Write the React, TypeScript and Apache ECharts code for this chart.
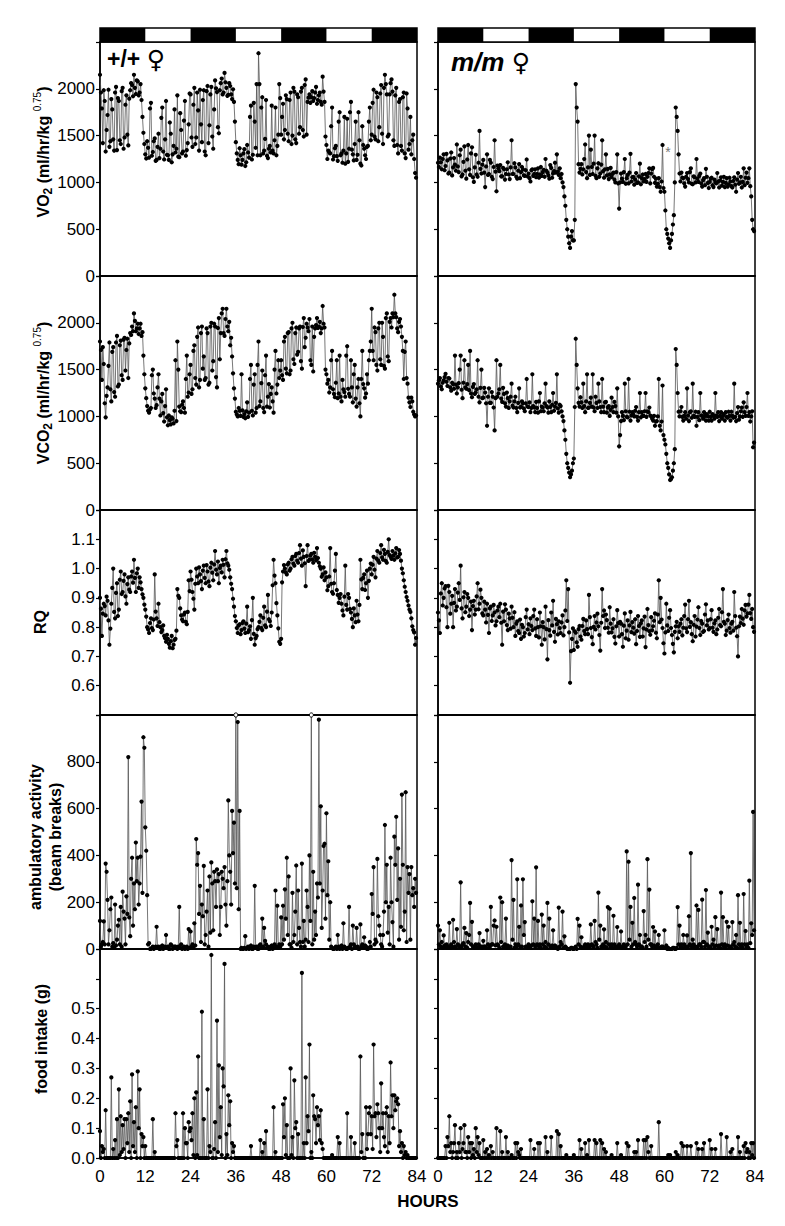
import React, { useEffect, useRef } from "react";
import * as echarts from "echarts";

// ---------- data ----------
// "*On" arrays: readings at t = 0, 0.5, 1.0 ... 83.5 h
// "*Off" arrays: readings at t = 0.25, 0.75 ... 83.75 h
const STEP_HOURS = 0.5;
const HOUR_MAX = 84;
const HOUR_INTERVAL = 12;
const darkPeriods = [[0, 12], [24, 36], [48, 60], [72, 84]];

const vo2WTOn = [
  2150,1790,1985,1330,1720,1380,1890,1460,1960,1345,1870,1410,2010,1480,1930,1395,1985,2040,2150,1945,2080,1960,1880,1530,
  1300,1440,1265,1850,1325,1470,1240,1520,1360,1800,1245,1870,1290,1640,1215,1390,1320,1930,1270,1560,1330,1870,1345,1620,
  1940,1380,2010,1480,1770,1990,1430,1985,1290,2030,1610,2020,1360,2090,1965,1525,2060,1940,2170,2010,1935,2030,1890,1860,
  1430,1240,1365,1190,1310,1175,1400,1265,1820,1295,1650,2050,2380,1290,1910,1340,1880,1260,1390,1820,1310,1800,1390,2050,
  1510,1840,1560,1890,1440,1960,1500,1970,1420,1910,1590,2010,1490,2100,1860,1940,1910,1870,1960,1840,1930,1860,2130,1860,
  1400,1340,1310,1800,1280,1390,1230,1750,1310,1340,1200,1680,1360,1860,1300,1410,1240,1750,1200,1600,1360,1250,1390,1800,
  1510,1990,1460,1910,1590,2040,1410,2150,1940,1510,2060,1970,1390,2010,1310,1890,1340,1960,1260,1790,1410,1300,1510,1100,
];
const vo2WTOff = [
  1960,1420,1870,1560,1990,1440,1780,1340,2020,1900,1450,1975,1360,1830,1510,1895,2060,1920,2010,2090,1930,2050,1700,1410,
  1255,1370,1790,1285,1440,1230,1380,1260,1690,1330,1460,1295,1240,1520,1300,1780,1360,1275,1740,1310,1660,1285,1420,1950,
  1480,1830,1410,1960,1340,1620,1880,1330,1975,1420,1940,1490,1780,2005,1590,1985,2110,1960,2070,1925,2060,1940,1995,1650,
  1310,1195,1290,1240,1355,1215,1320,1700,1245,1850,1370,1290,2050,1800,1310,1465,1285,1360,1320,1340,1450,1290,1510,1900,
  1700,1460,1930,1520,1880,1410,2010,1460,1940,1520,1970,1560,2040,1510,1905,1850,1975,1900,2020,1880,1960,1830,1970,1490,
  1250,1320,1600,1245,1365,1280,1650,1290,1210,1700,1310,1220,1750,1350,1235,1650,1295,1450,1180,1400,1290,1380,1650,1450,
  1850,1490,1960,1440,1950,1520,2010,2050,1490,1940,2100,1450,1930,1400,1860,1390,1910,1310,1950,1350,1700,1450,1250,1050,
];
const vo2MMOn = [
  1210,1265,1140,1300,1175,1235,1105,1320,1160,1190,1405,1110,1350,1085,1385,1040,1400,1080,1375,1005,1295,1060,1550,1095,
  1240,950,1300,1090,1210,1035,1450,905,1150,1185,1065,1140,1090,1215,1035,1450,1090,1160,1040,1195,1110,1140,1070,1245,
  1095,1010,1140,1090,1055,1150,1085,1070,1135,1250,1105,1040,1155,1095,1210,1300,1080,1045,1000,850,600,420,300,480,
  380,2050,1650,1105,1195,1140,1405,1045,1500,1350,1090,1500,1045,1205,1095,1450,1050,1300,1145,1085,1055,1105,1000,1300,
  720,1095,1005,1250,1045,990,1305,1055,975,1100,1000,1200,1045,1010,1090,1060,1150,1095,1155,995,955,1045,900,1400,
  900,500,400,300,450,650,1800,1550,1095,1105,1045,955,1100,1000,1150,980,1055,1250,1005,1095,955,1045,1145,995,
  1005,1050,950,1000,1100,945,1055,1005,950,1045,980,1010,945,1055,900,1100,1000,945,1150,1050,995,1150,850,500,
];
const vo2MMOff = [
  1165,1215,1250,1130,1305,1095,1255,1075,1260,1125,1170,1290,1065,1220,1125,1245,1140,1310,1055,1160,1085,1210,1145,1190,
  1105,1170,1080,1240,1060,1165,1115,1180,1120,1065,1155,1030,1140,1085,1160,1090,1205,1060,1125,1045,1165,1075,1130,1065,
  1045,1130,1070,1140,1090,1050,1165,1110,1060,1125,1075,1185,1050,1120,1105,1115,1150,1090,950,750,500,350,420,380,
  600,1800,1195,1145,1085,1250,1110,1160,1080,1165,1200,1070,1150,1060,1190,1120,1140,1075,1035,1155,1090,1030,1110,990,
  1000,1040,1110,985,1080,1105,1010,1060,1030,995,1065,980,1085,1035,1005,1100,990,1140,1060,1040,985,950,1010,940,
  700,450,350,380,550,1000,1700,1300,1010,1050,990,1060,1035,1110,985,1065,1000,1040,1070,990,1025,970,1060,940,
  1040,970,1030,990,1010,1020,965,1060,995,955,1050,960,1015,975,1030,985,1060,1005,970,1105,1045,960,600,480,
];
const vco2WTOn = [
  1800,1390,1560,990,1310,1790,1160,1740,1210,1860,1340,1810,1390,1840,1710,1410,1890,1960,2100,1910,1990,1940,1860,1650,
  1300,1110,1040,1090,1500,1190,1120,1450,1010,1240,945,1290,905,960,990,925,1600,1800,1105,1045,1160,1040,1650,1255,
  1550,1290,1760,1340,1950,1390,1960,1640,1410,1890,1360,2000,1590,1960,1310,2050,1890,2150,1860,2150,1910,1760,1640,1300,
  1050,1000,1060,1450,995,980,1150,1040,1550,1010,1450,1090,1800,1160,1490,1045,1650,1210,1095,1310,1040,1700,1340,1410,
  1600,1390,1850,1460,1900,1490,2000,1560,1950,1690,1960,1510,2050,1840,1950,2040,1550,1480,1940,2050,1960,1890,2180,1950,
  1450,1390,1310,1700,1240,1360,1195,1650,1160,1290,1210,1750,1240,1600,1150,1550,1105,1400,1000,1700,1300,1245,1350,1700,
  2150,1600,1900,1490,2000,1550,1850,1510,2100,1590,2050,2100,2300,2060,1900,2040,1850,1400,1800,1350,1150,1200,1050,1000,
];
const vco2WTOff = [
  1710,1740,1140,1220,1540,1290,1690,1260,1790,1320,1760,1440,1820,1490,1830,1780,1870,1910,2020,1940,1880,1990,1900,1450,
  1195,1060,1075,1440,1245,1090,1310,1190,1160,1035,1110,990,1010,915,975,1060,950,1500,1055,1125,1090,1400,1210,1450,
  1240,1700,1410,1850,1310,1890,1510,1390,1940,1340,1960,1490,1990,1420,1945,1610,2100,1890,2040,1960,2010,1840,1460,1190,
  1020,1090,1005,1065,1025,1055,995,1400,1060,1340,1040,1550,1110,1355,1090,1440,1105,1345,1240,1160,1500,1245,1600,1490,
  1440,1800,1510,1890,1450,1940,1610,1890,1660,1940,1590,1955,1740,1990,1910,1600,1960,1850,1975,1945,2010,1940,1990,1500,
  1350,1255,1600,1290,1205,1600,1245,1210,1390,1260,1650,1295,1210,1310,1450,1190,1310,1140,1400,1345,1200,1450,1600,1800,
  1700,1950,1550,1940,1610,2000,1540,2050,1640,2010,1950,2060,2100,1940,2010,1960,1700,1690,1410,1200,1100,1160,1020,1010,
];
const vco2MMOn = [
  1350,1410,1290,1385,1455,1325,1405,1275,1345,1650,1245,1355,1650,1195,1600,1295,1550,1700,1205,1345,1255,1600,1150,1500,
  1200,1255,900,1300,1145,1210,850,1600,1245,1550,1155,1240,1105,1195,1160,1350,1095,1210,1045,1300,1105,1140,1055,1400,
  1100,1045,1450,1095,1155,1040,1250,1105,1055,1350,1095,1160,1045,1250,1105,1450,1040,1110,1000,850,600,450,350,420,
  550,1830,1300,1105,1150,1350,1045,1450,1095,1200,1450,1055,1145,1350,1100,1400,1045,1155,1095,1005,1200,1045,1110,1300,
  680,950,1005,1350,995,1400,955,1045,1000,1100,955,1250,1045,1005,1250,1055,1095,1000,955,900,950,1400,850,1330,
  750,600,450,320,350,500,1720,1250,1000,1100,955,1045,1300,950,1055,1350,995,900,1045,1250,1005,1045,955,1000,
  1050,955,1005,1250,995,950,1045,1005,955,995,1050,955,1005,1350,950,1100,1000,1095,1150,1005,1250,1045,1000,670,
];
const vco2MMOff = [
  1385,1320,1360,1420,1370,1410,1310,1360,1295,1340,1310,1500,1285,1360,1310,1345,1280,1245,1315,1240,1290,1210,1305,1195,
  1305,1140,1210,1145,1260,1095,1195,1210,1290,1190,1305,1140,1255,1090,1210,1115,1160,1090,1145,1095,1160,1085,1140,1105,
  1150,1090,1110,1045,1090,1160,1055,1095,1140,1110,1040,1100,1125,1060,1145,1085,1125,1055,950,750,500,400,380,500,
  1100,1550,1145,1205,1090,1110,1160,1090,1145,1105,1095,1210,1090,1160,1045,1105,1150,1040,1110,1070,1100,1155,1040,1000,
  800,1045,960,1055,990,1050,1010,1020,1060,995,1045,990,1005,1055,995,1045,1010,975,1005,945,1000,900,945,800,
  700,500,380,330,420,650,1550,1050,1055,995,1005,975,1010,1045,985,1005,1050,995,960,1010,975,1005,1025,955,
  995,1025,975,1010,1045,1005,975,1025,1045,985,1005,1050,985,995,1035,965,1055,995,1045,1100,1005,945,1055,720,
];
const rqWTOn = [
  0.90,0.77,0.88,0.84,0.89,0.74,0.88,1.00,0.83,0.95,0.86,0.99,0.92,0.98,0.88,0.97,0.92,0.99,1.03,0.92,1.00,0.97,0.93,0.90,
  0.86,0.80,0.78,0.83,0.79,0.98,0.83,0.88,0.80,0.79,0.77,0.75,0.76,0.73,0.77,0.74,0.76,0.93,0.90,0.84,0.82,0.85,0.81,0.96,
  0.99,0.92,0.86,1.00,0.95,0.98,0.93,1.01,0.95,0.99,0.94,1.02,0.96,1.06,0.98,0.95,1.01,1.03,0.97,1.06,1.01,0.97,0.93,0.87,
  0.82,0.78,0.81,0.79,0.82,0.78,0.87,0.79,0.76,0.90,0.74,0.77,0.80,0.84,0.79,0.87,0.80,0.91,0.82,0.85,1.03,0.95,0.84,0.75,
  0.76,0.99,1.00,0.98,1.02,1.00,1.04,1.01,1.05,1.02,1.08,1.01,1.04,0.94,1.08,1.03,1.05,1.02,1.04,1.07,1.02,1.00,0.98,0.96,
  0.97,0.94,1.07,0.92,0.95,1.05,0.91,0.90,0.88,0.84,1.01,0.86,0.90,0.85,0.80,0.84,0.89,0.82,1.03,0.93,0.98,0.95,0.90,1.00,
  0.98,1.04,0.97,1.06,1.02,1.08,1.03,1.05,1.02,1.10,1.04,1.06,1.03,1.07,1.04,1.05,1.00,0.96,0.92,0.89,0.86,0.83,0.79,0.74,
];
const rqWTOff = [
  0.863,0.846,0.872,0.904,0.823,0.795,0.934,0.852,0.917,0.838,0.962,0.913,0.958,0.905,0.947,0.928,0.973,0.952,0.968,0.984,0.934,0.953,0.912,0.877,
  0.836,0.792,0.814,0.797,0.826,0.853,0.804,0.817,0.783,0.806,0.762,0.774,0.743,0.752,0.728,0.756,0.788,0.907,0.864,0.826,0.843,0.818,0.852,0.923,
  0.962,0.897,0.948,0.973,1.004,0.957,0.993,0.968,1.012,0.956,1.003,0.986,1.014,0.996,1.024,1.002,0.987,1.013,1.032,1.018,0.996,0.948,0.897,0.838,
  0.797,0.806,0.776,0.814,0.795,0.812,0.783,0.803,0.824,0.777,0.762,0.793,0.818,0.797,0.832,0.806,0.853,0.827,0.804,0.943,0.976,0.882,0.796,0.743,
  0.953,1.012,0.987,1.014,0.993,1.032,1.017,1.043,1.027,1.053,1.034,1.062,1.018,1.043,1.026,1.044,1.031,1.054,1.028,1.036,1.008,0.972,1.004,0.987,
  0.926,0.973,0.948,0.914,0.993,0.927,0.883,0.913,0.857,0.904,0.876,0.913,0.862,0.828,0.864,0.817,0.843,0.876,0.963,0.968,0.927,0.993,0.958,1.017,
  1.013,0.996,1.034,1.027,1.053,1.038,1.064,1.026,1.057,1.046,1.033,1.044,1.052,1.038,1.063,1.027,0.984,0.938,0.903,0.874,0.852,0.803,0.782,0.763,
];
const rqMMOn = [
  0.85,0.78,0.95,0.90,0.94,0.80,0.92,0.88,0.80,0.93,0.87,0.95,1.01,0.83,0.92,0.87,0.90,0.86,0.79,0.89,0.86,0.95,0.88,0.90,
  0.84,0.86,0.88,0.78,0.87,0.84,0.85,0.82,0.87,0.88,0.74,0.82,0.86,0.79,0.83,0.87,0.80,0.77,0.82,0.78,0.76,0.80,0.78,0.86,
  0.81,0.83,0.79,0.86,0.77,0.80,0.85,0.74,0.80,0.87,0.69,0.79,0.85,0.89,0.75,0.81,0.82,0.78,0.84,0.80,0.96,0.93,0.61,0.76,
  0.722,0.781,0.733,0.804,0.757,0.828,0.776,0.793,0.91,0.797,0.742,0.838,0.816,0.803,0.72,0.93,0.857,0.843,0.798,0.868,0.782,0.827,0.744,0.858,
  0.768,0.812,0.733,0.847,0.788,0.757,0.852,0.817,0.778,0.742,0.838,0.767,0.823,0.796,0.732,0.862,0.786,0.834,0.803,0.847,0.762,0.96,0.90,0.797,
  0.71,0.88,0.787,0.858,0.773,0.714,0.803,0.762,0.784,0.827,0.798,0.877,0.783,0.89,0.817,0.752,0.838,0.802,0.868,0.773,0.812,0.787,0.878,0.823,
  0.797,0.858,0.784,0.823,0.792,0.862,0.803,0.93,0.812,0.788,0.843,0.781,0.818,0.92,0.798,0.70,0.836,0.862,0.808,0.876,0.847,0.91,0.828,0.80,
];
const rqMMOff = [
  0.823,0.915,0.874,0.932,0.868,0.941,0.846,0.907,0.883,0.857,0.918,0.893,0.864,0.902,0.851,0.913,0.838,0.887,0.872,0.843,0.905,0.861,0.928,0.847,
  0.887,0.816,0.842,0.864,0.821,0.876,0.806,0.857,0.834,0.815,0.853,0.878,0.807,0.846,0.795,0.832,0.851,0.812,0.787,0.826,0.808,0.768,0.834,0.792,
  0.776,0.804,0.838,0.796,0.827,0.765,0.803,0.817,0.758,0.793,0.824,0.771,0.806,0.784,0.828,0.775,0.797,0.816,0.772,0.857,0.821,0.782,0.718,0.796,
  0.786,0.748,0.793,0.768,0.804,0.787,0.823,0.776,0.834,0.766,0.801,0.792,0.846,0.773,0.815,0.838,0.797,0.824,0.781,0.812,0.796,0.767,0.803,0.814,
  0.818,0.776,0.805,0.762,0.823,0.806,0.783,0.798,0.827,0.787,0.804,0.813,0.768,0.836,0.792,0.807,0.774,0.789,0.822,0.781,0.843,0.817,0.826,0.745,
  0.782,0.806,0.832,0.797,0.743,0.784,0.818,0.803,0.812,0.772,0.838,0.796,0.827,0.801,0.776,0.808,0.768,0.826,0.797,0.821,0.784,0.843,0.806,0.792,
  0.827,0.798,0.813,0.776,0.832,0.807,0.851,0.818,0.773,0.824,0.797,0.812,0.788,0.838,0.769,0.803,0.814,0.829,0.857,0.836,0.877,0.848,0.862,0.784,
];
const ambWTOn = [
  120,20,118,365,210,80,220,25,190,40,125,180,245,130,225,820,55,390,280,455,390,280,630,905,
  520,230,25,0,10,5,95,10,0,15,5,60,10,0,15,5,10,0,180,20,5,0,10,85,
  75,20,110,470,410,270,190,355,60,250,310,370,80,290,340,320,180,300,350,100,635,330,590,540,
  1000,970,590,5,0,55,5,0,15,0,270,10,0,20,130,90,20,10,0,15,5,250,185,20,
  135,185,255,390,310,20,240,60,357,250,30,365,120,40,180,400,1000,330,160,280,980,610,250,450,
  580,375,200,5,0,10,60,0,15,110,5,0,180,20,100,10,90,0,105,20,50,10,0,30,
  235,350,40,385,100,20,60,530,360,180,390,115,480,565,430,300,660,80,670,350,320,350,260,300,
];
const ambWTOff = [
  10,30,20,330,20,170,10,5,15,100,20,10,160,20,150,135,300,100,170,290,190,395,240,860,
  420,20,0,5,0,10,5,0,10,0,10,5,0,20,0,10,5,10,5,0,10,5,0,5,
  10,5,15,360,150,30,140,20,160,10,70,280,330,180,290,60,330,260,190,290,400,190,410,280,
  260,170,0,0,5,0,10,5,0,10,5,0,15,5,10,35,5,0,10,0,20,10,5,10,
  20,40,130,60,20,5,30,160,20,90,10,30,10,250,30,120,20,40,60,220,280,90,440,130,
  230,40,10,0,5,0,10,5,0,10,0,5,10,0,20,5,10,0,10,5,15,0,5,10,
  150,20,30,140,60,10,160,200,70,20,200,10,360,210,40,95,360,160,30,240,40,230,180,240,
];
const ambMMOn = [
  100,80,30,58,10,5,112,20,125,10,85,15,285,20,90,68,30,197,116,10,20,5,68,10,
  35,10,80,5,180,20,122,95,15,220,200,10,130,15,5,380,210,20,298,95,186,298,115,10,
  20,5,204,130,349,120,20,147,100,30,197,130,10,80,15,5,177,30,160,54,5,0,0,5,
  0,10,129,100,50,5,20,10,5,105,15,120,20,241,100,10,84,30,179,172,20,142,10,94,
  20,75,10,5,417,373,180,112,218,20,275,60,10,162,60,384,254,20,94,75,10,60,5,10,
  80,15,5,0,0,5,0,179,100,20,60,10,58,140,410,40,10,186,167,20,211,30,252,70,
  10,95,40,136,85,15,241,136,20,116,95,10,115,30,60,230,112,20,235,77,20,292,110,586,
];
const ambMMOff = [
  20,10,5,15,20,10,5,10,30,5,20,10,10,25,10,5,60,20,10,5,5,20,10,5,
  10,5,20,10,20,100,15,20,5,30,10,20,5,10,10,40,5,10,20,10,10,60,10,5,
  10,15,20,10,20,10,5,20,10,5,20,10,15,5,10,0,10,20,5,10,0,0,5,0,
  5,0,20,10,5,10,5,20,10,20,10,30,5,40,10,20,10,5,20,10,5,20,5,10,
  10,5,20,10,20,40,10,20,30,10,20,10,5,30,10,40,20,10,15,5,20,5,10,5,
  5,0,0,0,5,0,5,20,10,5,20,5,10,20,10,20,5,10,20,10,30,10,20,10,
  5,20,10,15,10,5,20,10,5,15,10,5,20,10,5,20,10,5,20,10,5,25,60,80,
];
const foodWTOn = [
  0.09,0.04,0.03,0.16,0,0,0.27,0.03,0.06,0.13,0.23,0.14,0.11,0.13,0.13,0.15,0.19,0.28,0.12,0.17,0.29,0.23,0.08,0.07,
  0.04,0,0,0,0.13,0.02,0,0,0,0,0,0,0,0,0,0,0.15,0.06,0,0,0.15,0.10,0.05,0.12,
  0.10,0.15,0.20,0.22,0.34,0,0.49,0.13,0,0.23,0.04,0.68,0,0.12,0.46,0.31,0.17,0.30,0.65,0.08,0.21,0.19,0.05,0.04,
  0,0,0,0,0,0,0,0,0.04,0,0,0,0,0.06,0.02,0.05,0.09,0,0,0,0.17,0.02,0,0,
  0,0.18,0.20,0.11,0,0.30,0.07,0.26,0.12,0.08,0,0.62,0.05,0.27,0.14,0.38,0.02,0.21,0.13,0.17,0.14,0.16,0.03,0,
  0,0,0,0.01,0,0,0.07,0.05,0,0,0,0.15,0,0.07,0,0.05,0,0,0.34,0.08,0,0.17,0.08,0.17,
  0.14,0.38,0.15,0.18,0.10,0.25,0.15,0.04,0.17,0.14,0.32,0.21,0.21,0.19,0.18,0.09,0.05,0.04,0.02,0.01,0,0,0,0,
];
const foodWTOff = [
  0,0.02,0,0,0,0,0,0,0,0,0.01,0.02,0.03,0,0.05,0.02,0,0.04,0.02,0,0.10,0,0.04,0,
  0,0,0,0,0,0,0,0,0,0,0,0,0,0,0,0,0.04,0,0,0,0,0.05,0,0.09,
  0.06,0.01,0,0.01,0,0,0,0,0,0,0.02,0,0.03,0,0.02,0.07,0.01,0.24,0,0.01,0.11,0,0.02,0,
  0,0,0,0,0,0,0,0,0,0,0,0,0,0,0,0,0,0,0,0,0,0,0,0,
  0,0.07,0.01,0,0,0.01,0,0.10,0,0,0,0,0,0.05,0.09,0,0,0.14,0.05,0.11,0.06,0.05,0,0,
  0,0,0,0,0,0,0,0,0,0,0,0,0,0,0,0,0,0,0.02,0,0,0.03,0.15,0.08,
  0.03,0.14,0.07,0.15,0.02,0.10,0.07,0.15,0.02,0.05,0.14,0.10,0.16,0.20,0.04,0.02,0,0.01,0,0,0,0,0,0,
];
const foodMMOn = [
  0,0,0,0,0.04,0.07,0.14,0.05,0.02,0.11,0.02,0.05,0.10,0.03,0.11,0.02,0.07,0.05,0.05,0.03,0.10,0.07,0.05,0,
  0.06,0.02,0.03,0.01,0.04,0.02,0,0.10,0,0.09,0.02,0,0.07,0.02,0,0.01,0,0.05,0.05,0.01,0.03,0,0,0,
  0,0.06,0,0.03,0,0.05,0.05,0,0,0.07,0.02,0,0.07,0,0,0.09,0.08,0.04,0,0,0.01,0,0,0,
  0.01,0,0,0.06,0.03,0,0.05,0.01,0.06,0,0,0.06,0.05,0,0.06,0.05,0.03,0.02,0,0,0.01,0,0,0.05,
  0,0.01,0,0,0.05,0.04,0,0,0.02,0.02,0.06,0,0,0.06,0.06,0.07,0,0.04,0,0,0,0.12,0,0,
  0,0,0.01,0.01,0,0,0.02,0.01,0,0.05,0.04,0,0.04,0,0.04,0,0,0.05,0.03,0,0.03,0.05,0,0,
  0.06,0.03,0,0.03,0,0,0.08,0,0,0.07,0,0.02,0.03,0,0,0.07,0.02,0,0.04,0.05,0.03,0.02,0.05,0.05,
];
const foodMMOff = [
  0,0,0,0,0,0.04,0.02,0,0.05,0,0,0.02,0,0.05,0.02,0,0.02,0,0.01,0,0.02,0.01,0,0,
  0,0,0,0,0,0,0,0,0,0,0,0,0,0,0,0,0,0,0.02,0,0,0,0,0,
  0,0,0,0,0,0,0,0,0,0,0,0,0,0,0,0,0,0,0,0,0,0,0,0,
  0,0,0,0,0,0,0,0,0,0,0,0,0,0,0,0,0,0,0,0,0,0,0,0,
  0,0,0,0,0,0,0,0,0,0,0,0,0,0,0,0.02,0,0,0,0,0,0,0,0,
  0,0,0,0,0,0,0,0,0,0,0,0,0,0,0,0,0,0,0,0,0,0,0,0,
  0,0,0,0,0,0,0,0,0,0,0,0,0,0,0,0,0,0,0,0.02,0,0,0.01,0,
];

const rowData = [
  [[vo2WTOn, vo2WTOff], [vo2MMOn, vo2MMOff]],
  [[vco2WTOn, vco2WTOff], [vco2MMOn, vco2MMOff]],
  [[rqWTOn, rqWTOff], [rqMMOn, rqMMOff]],
  [[ambWTOn, ambWTOff], [ambMMOn, ambMMOff]],
  [[foodWTOn, foodWTOff], [foodMMOn, foodMMOff]],
];

type AxisSpec = { min: number; max: number; interval: number; fmt: (v: number) => string };
const rowAxes: AxisSpec[] = [
  { min: 0, max: 2500, interval: 500, fmt: (v) => (v >= 2500 ? "" : String(v)) },
  { min: 0, max: 2500, interval: 500, fmt: (v) => (v >= 2500 ? "" : String(v)) },
  { min: 0.5, max: 1.2, interval: 0.1, fmt: (v) => (v < 0.55 || v > 1.15 ? "" : v.toFixed(1)) },
  { min: 0, max: 1000, interval: 200, fmt: (v) => (v >= 1000 ? "" : String(v)) },
  { min: 0, max: 0.7, interval: 0.1, fmt: (v) => (v > 0.55 ? "" : v.toFixed(1)) },
];

// ---------- layout ----------
const FONT = '"Liberation Sans", Arial, Helvetica, sans-serif';
const COL_LEFT = [100, 438];
const PANEL_W = 317;
const ROW_TOP = [42, 276, 510, 715, 949];
const ROW_H = [234, 234, 205, 234, 209];
const BAR_TOP = 28;
const BAR_H = 14;
const TICK_FONT = 17;

function mergeReadings(on: number[], off: number[]): number[][] {
  const out: number[][] = [];
  for (let i = 0; i < on.length; i++) {
    out.push([i * STEP_HOURS, on[i]]);
    out.push([i * STEP_HOURS + STEP_HOURS / 2, off[i]]);
  }
  return out;
}

function buildOption(): any {
  const grid: any[] = [];
  const xAxis: any[] = [];
  const yAxis: any[] = [];
  const series: any[] = [];

  for (let r = 0; r < 5; r++) {
    for (let c = 0; c < 2; c++) {
      const idx = grid.length;
      const spec = rowAxes[r];
      grid.push({
        left: COL_LEFT[c], top: ROW_TOP[r], width: PANEL_W, height: ROW_H[r],
        show: true, borderColor: "#000", borderWidth: 1.5, backgroundColor: "transparent",
      });
      xAxis.push({
        type: "value", gridIndex: idx, min: 0, max: HOUR_MAX, interval: HOUR_INTERVAL,
        axisLine: { show: true, onZero: false, lineStyle: { color: "#000", width: 1.5 } },
        axisTick: { show: false },
        splitLine: { show: false },
        axisLabel: { show: r === 4, color: "#000", fontSize: TICK_FONT, margin: 10, fontFamily: FONT },
      });
      yAxis.push({
        type: "value", gridIndex: idx, min: spec.min, max: spec.max, interval: spec.interval,
        axisLine: { show: true, onZero: false, lineStyle: { color: "#000", width: 1.5 } },
        axisTick: { show: true, inside: false, length: 4, lineStyle: { color: "#000", width: 1.2 } },
        splitLine: { show: false },
        axisLabel: { show: c === 0, color: "#000", fontSize: TICK_FONT, margin: 5, fontFamily: FONT, formatter: spec.fmt },
      });
      const [on, off] = rowData[r][c];
      const top = spec.max;
      series.push({
        type: "line", xAxisIndex: idx, yAxisIndex: idx,
        data: mergeReadings(on, off).map((p) =>
          p[1] >= top
            ? { value: [p[0], top], itemStyle: { color: "#fff", borderColor: "#000", borderWidth: 1 } }
            : p
        ),
        symbol: "circle", symbolSize: 4.2, showSymbol: true, showAllSymbol: true,
        itemStyle: { color: "#000" },
        lineStyle: { color: "#555", width: 0.8 },
        silent: true,
      });
    }
  }

  // light/dark bars above each column
  for (let c = 0; c < 2; c++) {
    const idx = grid.length;
    grid.push({
      left: COL_LEFT[c], top: BAR_TOP, width: PANEL_W, height: BAR_H,
      show: true, borderColor: "#000", borderWidth: 1.5, backgroundColor: "#fff",
    });
    xAxis.push({ type: "value", gridIndex: idx, min: 0, max: HOUR_MAX, show: false });
    yAxis.push({ type: "value", gridIndex: idx, min: 0, max: 1, show: false });
    series.push({
      type: "custom", xAxisIndex: idx, yAxisIndex: idx,
      data: darkPeriods,
      silent: true,
      renderItem: (params: any, api: any) => {
        const s = api.coord([api.value(0), 1]);
        const e = api.coord([api.value(1), 0]);
        return { type: "rect", shape: { x: s[0], y: s[1], width: e[0] - s[0], height: e[1] - s[1] }, style: { fill: "#000" } };
      },
    });
  }

  const rich = {
    b: { fontSize: 16, fontWeight: "bold", fontFamily: FONT, lineHeight: 22, fill: "#000", color: "#000" },
    s: { fontSize: 12, fontWeight: "bold", fontFamily: FONT, lineHeight: 13, verticalAlign: "bottom", fill: "#000", color: "#000" },
    p: { fontSize: 10, fontWeight: "normal", fontFamily: FONT, lineHeight: 12, verticalAlign: "top", fill: "#000", color: "#000" },
  };
  const richTwo = {
    b: { fontSize: 16, fontWeight: "bold", fontFamily: FONT, lineHeight: 20, fill: "#000", color: "#000" },
  };
  const richGeno = {
    g: { fontSize: 23, fontWeight: "bold", fontFamily: FONT, fill: "#000", color: "#000" },
    i: { fontSize: 26, fontWeight: "bold", fontStyle: "italic", fontFamily: FONT, fill: "#000", color: "#000" },
    v: { fontSize: 25, fontWeight: "bold", fontFamily: '"DejaVu Sans", sans-serif', fill: "#000", color: "#000" },
  };

  const yTitle = (x: number, y: number, text: string, r: any) => ({
    type: "text", x, y, rotation: Math.PI / 2, silent: true,
    style: { text, rich: r, align: "center", verticalAlign: "middle", fill: "#000", fontFamily: FONT },
  });

  const graphic = [
    yTitle(43, 152, "{b|VO}{s|2}{b| (ml/hr/kg }{p|0.75}{b|)}", rich),
    yTitle(43, 393, "{b|VCO}{s|2}{b| (ml/hr/kg }{p|0.75}{b|)}", rich),
    yTitle(40, 622, "{b|RQ}", rich),
    yTitle(45, 837, "{b|ambulatory activity}\n{b|(beam breaks)}", richTwo),
    yTitle(41, 1039, "{b|food intake (g)}", rich),
    {
      type: "text", x: 107, y: 59, silent: true,
      style: { text: "{g|+/+ }{v|♀}", rich: richGeno, align: "left", verticalAlign: "middle", fill: "#000" },
    },
    {
      type: "text", x: 451, y: 62, silent: true,
      style: { text: "{i|m/m }{v|♀}", rich: richGeno, align: "left", verticalAlign: "middle", fill: "#000" },
    },
    {
      type: "text", x: 668, y: 152, silent: true,
      style: { text: "*", fontSize: 14, fontFamily: FONT, fill: "#777", align: "center", verticalAlign: "middle" },
    },
    {
      type: "text", x: 428, y: 1201, silent: true,
      style: { text: "HOURS", fontSize: 17, fontWeight: "bold", fontFamily: FONT, fill: "#000", align: "center", verticalAlign: "middle" },
    },
  ];

  return {
    animation: false,
    backgroundColor: "#fff",
    textStyle: { fontFamily: FONT, color: "#000" },
    grid, xAxis, yAxis, series, graphic,
  };
}

export default function App() {
  const ref = useRef<HTMLDivElement | null>(null);
  useEffect(() => {
    if (!ref.current) return;
    const chart = echarts.init(ref.current, undefined, { renderer: "svg" });
    chart.setOption(buildOption());
    return () => chart.dispose();
  }, []);
  return (
    <div
      ref={ref}
      style={{ position: "absolute", left: 0, top: 0, width: 785, height: 1226, background: "#fff" }}
    />
  );
}
